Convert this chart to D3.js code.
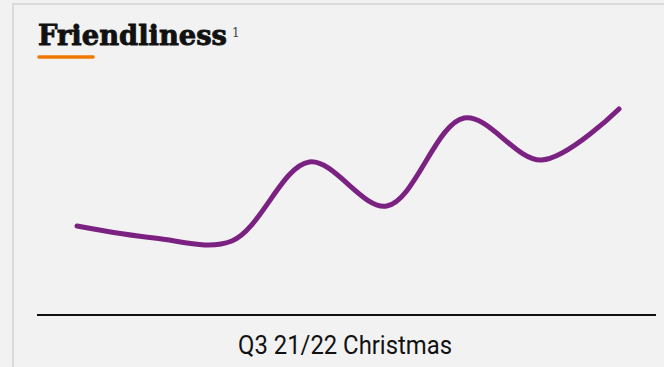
<!DOCTYPE html>
<html>
<head>
<meta charset="utf-8">
<script src="https://cdn.jsdelivr.net/npm/d3@7"></script>
<style>
  html, body { margin: 0; padding: 0; background: #f2f2f2; }
  svg { display: block; }
</style>
</head>
<body>
<svg id="chart" width="664" height="367"></svg>
<script>
// Friendliness score by wave
const waves = ["W1", "W2", "W3", "W4", "W5", "W6", "W7", "W8"];
const scores = [70.0, 68.8, 68.5, 76.4, 72.0, 80.8, 76.6, 81.7];
const title = "Friendliness";
const footnote = "1";
const periodLabel = "Q3 21/22 Christmas";

const W = 664, H = 367;
const svg = d3.select("#chart");

// panel background with light top/left border
svg.append("rect").attr("x", 0).attr("y", 0).attr("width", W).attr("height", H).attr("fill", "#f2f2f2");
svg.append("rect").attr("x", 12).attr("y", 3).attr("width", W - 12).attr("height", 2).attr("fill", "#dadada");
svg.append("rect").attr("x", 12).attr("y", 3).attr("width", 2).attr("height", H - 3).attr("fill", "#dadada");

// title
svg.append("text")
  .attr("x", 38).attr("y", 45)
  .attr("font-family", "'DejaVu Serif', serif")
  .attr("font-weight", "bold")
  .attr("font-size", 28)
  .attr("fill", "#111")
  .attr("stroke", "#111")
  .attr("stroke-width", 0.9)
  .attr("textLength", 189)
  .attr("lengthAdjust", "spacingAndGlyphs")
  .text(title);
svg.append("text")
  .attr("x", 232).attr("y", 37)
  .attr("font-family", "'DejaVu Serif', serif")
  .attr("font-size", 12)
  .attr("fill", "#444")
  .text(footnote);
svg.append("line")
  .attr("x1", 39).attr("x2", 93).attr("y1", 57).attr("y2", 57)
  .attr("stroke", "#f07800").attr("stroke-width", 3.5).attr("stroke-linecap", "round");

// scales
const x = d3.scalePoint().domain(waves).range([77, 619]);
const y = d3.scaleLinear().domain([60, 90]).range([326, 26]);

// baseline axis
svg.append("line")
  .attr("x1", 37).attr("x2", 656).attr("y1", 315).attr("y2", 315)
  .attr("stroke", "#111").attr("stroke-width", 2);

svg.append("text")
  .attr("x", 345).attr("y", 354)
  .attr("text-anchor", "middle")
  .attr("font-family", "'Liberation Sans Narrow', 'Roboto', sans-serif")
  .attr("font-size", 25)
  .attr("fill", "#111")
  .attr("textLength", 214)
  .attr("lengthAdjust", "spacingAndGlyphs")
  .text(periodLabel);

// score line
const line = d3.line()
  .x((d, i) => x(waves[i]))
  .y(d => y(d))
  .curve(d3.curveCatmullRom.alpha(0.5));

svg.append("path")
  .datum(scores)
  .attr("d", line)
  .attr("fill", "none")
  .attr("stroke", "#7b2182")
  .attr("stroke-width", 5)
  .attr("stroke-linecap", "round")
  .attr("stroke-linejoin", "round");
</script>
</body>
</html>
